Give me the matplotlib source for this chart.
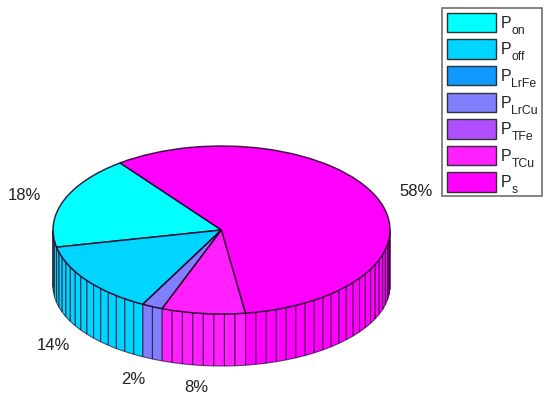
import numpy as np
from matplotlib import pyplot as plt
from matplotlib.patches import Patch, Rectangle

plt.rcParams['font.family'] = ['Liberation Sans', 'DejaVu Sans']

names = ['on', 'off', 'LrFe', 'LrCu', 'TFe', 'TCu', 's']
percent = [18, 14, 0, 2, 0, 8, 58]
colors = ['#00FFFF', '#00D5FF', '#0F99FF', '#8080FF', '#B04FFF', '#FF1FFF', '#FF00FF']
pct_labels = ['18%', '14%', '2%', '8%', '58%']
pct_pos = [(24, 196), (53, 346), (133, 379), (196, 387), (416, 191)]

W, H = 550, 405
cx, cy, rx, ry = 221.5, 230, 168.5, 84
start = 127.0
depth = 56 / ry
low_ry = 80 / ry

fig = plt.figure(figsize=(5.5, 4.05), dpi=100)
ax = fig.add_axes([0, 0, 1, 1])

# side wall, one facet per percent
edge = (0.1, 0, 0.15, 0.65)
ang = start
for p, col in zip(percent, colors):
    end = ang + p * 3.6
    n = max(int(p), 1)
    steps = np.linspace(ang, end, n + 1)
    for a0, a1 in zip(steps[:-1], steps[1:]):
        for base in (180, 540):
            b0, b1 = max(a0, base), min(a1, base + 180)
            if b1 <= b0:
                continue
            t = np.radians(np.linspace(b0, b1, 6))
            x = np.cos(t)
            ax.fill(np.r_[x, x[::-1]],
                    np.r_[np.sin(t), (np.sin(t) * low_ry - depth)[::-1]],
                    facecolor=col, edgecolor=edge, linewidth=0.8)
    ang = end

# top of the pie
ax.pie(percent, colors=colors, startangle=start, counterclock=True, radius=1,
       wedgeprops=dict(edgecolor=(0.15, 0, 0.15, 0.85), linewidth=1.1))

ax.set_aspect('auto')
ax.set_frame_on(False)
ax.set_xlim(-cx / rx, (W - cx) / rx)
ax.set_ylim(-(H - cy) / ry, cy / ry)
ax.set_xticks([])
ax.set_yticks([])

for lab, (px, py) in zip(pct_labels, pct_pos):
    fig.text(px / W, 1 - py / H, lab, fontsize=12, color='#222222', ha='center', va='center')

# legend frame drawn by hand so it has room for the subscripts
fig.add_artist(Rectangle((442 / W, 1 - 196 / H), 100 / W, 188 / H, transform=fig.transFigure,
                         facecolor='white', edgecolor='#707070', linewidth=1.2, zorder=1))

handles = [Patch(facecolor=c, edgecolor='#303030', linewidth=1.0) for c in colors]
leg = fig.legend(handles, ['P'] * len(names), loc='upper left',
                 bbox_to_anchor=(442 / W, 1 - 8 / H), bbox_transform=fig.transFigure,
                 fontsize=11.5, frameon=False,
                 handlelength=3.1, handleheight=1.5, handletextpad=0.25, labelspacing=0.445,
                 borderpad=0.3, borderaxespad=0, labelcolor='#222222')

# subscripts sit lower and larger than mathtext would put them
fig.canvas.draw()
for txt, n in zip(leg.get_texts(), names):
    box = txt.get_window_extent()
    fig.text((box.x0 + 11) / W, (box.y0 - 3) / H, n, fontsize=8.8, color='#222222',
             ha='left', va='baseline', zorder=10)

fig.savefig('out.png', dpi=100)
